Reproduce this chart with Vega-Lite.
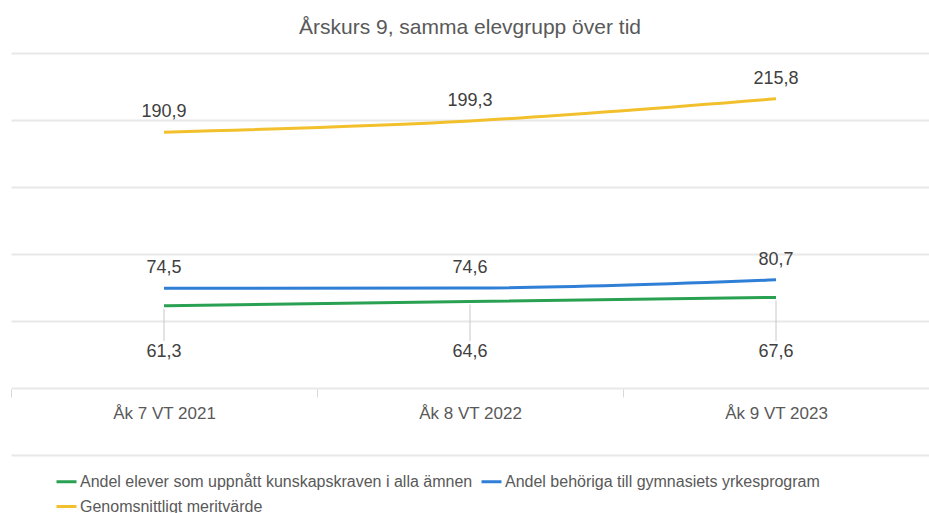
{
  "$schema": "https://vega.github.io/schema/vega-lite/v6.json",
  "width": 918,
  "height": 402,
  "autosize": {"type": "none"},
  "padding": {"left": 11, "top": 53, "right": 0, "bottom": 58},
  "background": "#ffffff",
  "config": {
    "view": {"stroke": null},
    "font": "Liberation Sans"
  },
  "title": {
    "text": "Årskurs 9, samma elevgrupp över tid",
    "fontSize": 21,
    "font": "Liberation Sans",
    "fontWeight": "normal",
    "color": "#595959",
    "anchor": "middle",
    "offset": 15
  },
  "data": {
    "values": [
      {"period": "Åk 7 VT 2021", "series": "Andel elever som uppnått kunskapskraven i alla ämnen", "value": 61.3, "label": "61,3"},
      {"period": "Åk 8 VT 2022", "series": "Andel elever som uppnått kunskapskraven i alla ämnen", "value": 64.6, "label": "64,6"},
      {"period": "Åk 9 VT 2023", "series": "Andel elever som uppnått kunskapskraven i alla ämnen", "value": 67.6, "label": "67,6"},
      {"period": "Åk 7 VT 2021", "series": "Andel behöriga till gymnasiets yrkesprogram", "value": 74.5, "label": "74,5"},
      {"period": "Åk 8 VT 2022", "series": "Andel behöriga till gymnasiets yrkesprogram", "value": 74.6, "label": "74,6"},
      {"period": "Åk 9 VT 2023", "series": "Andel behöriga till gymnasiets yrkesprogram", "value": 80.7, "label": "80,7"},
      {"period": "Åk 7 VT 2021", "series": "Genomsnittligt meritvärde", "value": 190.9, "label": "190,9"},
      {"period": "Åk 8 VT 2022", "series": "Genomsnittligt meritvärde", "value": 199.3, "label": "199,3"},
      {"period": "Åk 9 VT 2023", "series": "Genomsnittligt meritvärde", "value": 215.8, "label": "215,8"}
    ]
  },
  "encoding": {
    "x": {
      "field": "period",
      "type": "nominal",
      "sort": null,
      "scale": {"type": "band", "paddingInner": 0, "paddingOuter": 0},
      "axis": {
        "title": null,
        "labelAngle": 0,
        "labelFontSize": 17,
        "labelColor": "#595959",
        "labelPadding": 8,
        "offset": -66,
        "domain": false,
        "ticks": true,
        "tickBand": "extent",
        "tickSize": 8,
        "tickColor": "#d9d9d9",
        "tickWidth": 1,
        "grid": false
      }
    },
    "y": {
      "field": "value",
      "type": "quantitative",
      "scale": {"domain": [-50, 250], "nice": false, "zero": false},
      "axis": {
        "title": null,
        "labels": false,
        "ticks": false,
        "domain": false,
        "grid": true,
        "values": [-50, 0, 50, 100, 150, 200, 250],
        "gridColor": "#e8e8e8",
        "gridWidth": 2
      }
    }
  },
  "layer": [
    {
      "mark": {"type": "line", "strokeWidth": 3, "interpolate": "monotone"},
      "encoding": {
        "color": {
          "field": "series",
          "type": "nominal",
          "scale": {
            "domain": ["Andel elever som uppnått kunskapskraven i alla ämnen", "Andel behöriga till gymnasiets yrkesprogram", "Genomsnittligt meritvärde"],
            "range": ["#2aa152", "#2f7fd6", "#f2c02c"]
          },
          "legend": {
            "title": null,
            "orient": "none",
            "legendX": 44,
            "legendY": 417,
            "direction": "horizontal",
            "columns": 2,
            "columnPadding": 2,
            "rowPadding": 5,
            "symbolType": "stroke",
            "symbolSize": 400,
            "symbolStrokeWidth": 3,
            "labelFontSize": 16,
            "labelColor": "#595959",
            "labelOffset": 2,
            "labelLimit": 0
          }
        }
      }
    },
    {
      "transform": [{"filter": "datum.series === 'Andel elever som uppnått kunskapskraven i alla ämnen'"}],
      "mark": {"type": "rule", "color": "#c8c8c8", "strokeWidth": 1, "yOffset": 3},
      "encoding": {
        "y2": {"datum": 35}
      }
    },
    {
      "transform": [{"filter": "datum.series === 'Andel elever som uppnått kunskapskraven i alla ämnen'"}],
      "mark": {"type": "text", "fontSize": 18, "color": "#404040", "baseline": "middle"},
      "encoding": {"text": {"field": "label"}, "y": {"datum": 27}}
    },
    {
      "transform": [{"filter": "datum.series !== 'Andel elever som uppnått kunskapskraven i alla ämnen'"}],
      "mark": {"type": "text", "fontSize": 18, "color": "#404040", "baseline": "middle", "dy": -20},
      "encoding": {"text": {"field": "label"}}
    }
  ]
}
